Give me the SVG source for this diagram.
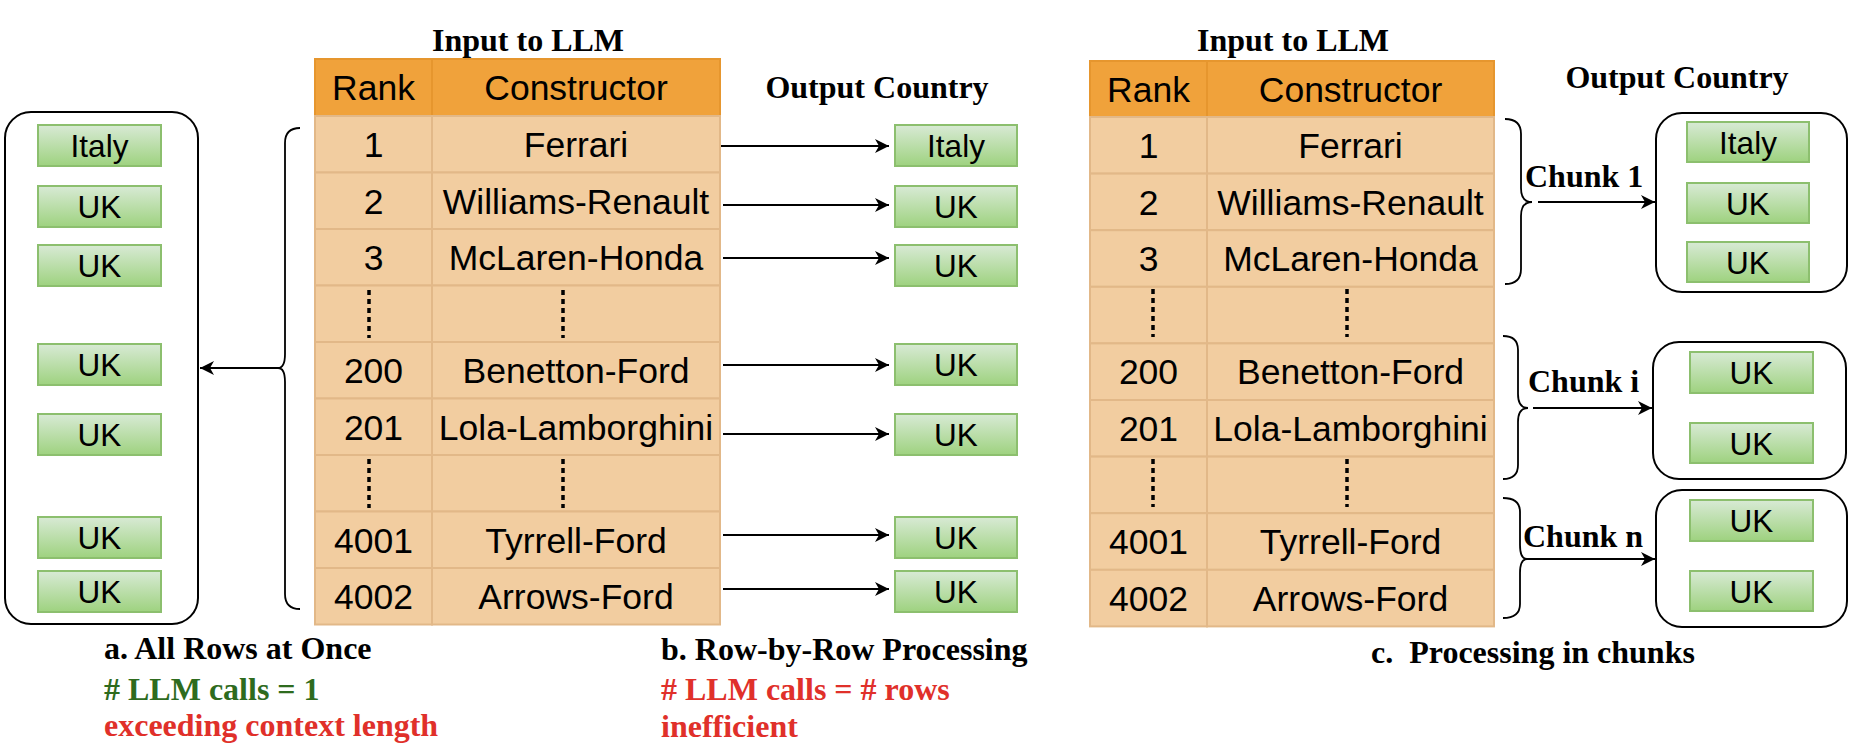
<svg xmlns="http://www.w3.org/2000/svg" width="1854" height="750" viewBox="0 0 1854 750">
<style>
.hdr{fill:#F0A23B;stroke:#E6962E;stroke-width:2}
.cell{fill:#F2CDA0;stroke:#E2B888;stroke-width:2}
.tt{font-family:"Liberation Sans",Arial,sans-serif;font-size:35.5px;fill:#000;text-anchor:middle}
.gb{fill:url(#g);stroke:#8CBF6E;stroke-width:2}
.gt{font-family:"Liberation Sans",Arial,sans-serif;font-size:31.5px;fill:#000;text-anchor:middle}
.rb{fill:#fff;stroke:#000;stroke-width:2}
.ti{font-family:"Liberation Serif","Times New Roman",serif;font-weight:bold;font-size:32px;fill:#000}
.mid{text-anchor:middle}
.dot{stroke:#000;stroke-width:3.5;stroke-dasharray:5 4;fill:none}
.ar{stroke:#000;stroke-width:2;fill:none;marker-end:url(#ah)}
.br{stroke:#000;stroke-width:1.8;fill:none}
.grn{fill:#2E6B1E}
.red{fill:#E0302A}
</style>
<defs>
<linearGradient id="g" x1="0" y1="0" x2="0" y2="1">
<stop offset="0" stop-color="#D8EAD5"/>
<stop offset="1" stop-color="#9ED27F"/>
</linearGradient>
<marker id="ah" markerUnits="userSpaceOnUse" markerWidth="15" markerHeight="14" refX="14" refY="7" orient="auto">
<path d="M0,0 L14,7 L0,14 L4,7 z" fill="#000"/>
</marker>
</defs>

<!-- Panel a -->
<g id="panel-a-output">
<rect class="rb" x="5" y="112" width="193" height="512" rx="26"/>
<g id="a-italy"><rect class="gb" x="38" y="125" width="123" height="41"/><text class="gt" x="99.5" y="157">Italy</text></g>
<g id="a-uk1"><rect class="gb" x="38" y="186" width="123" height="41"/><text class="gt" x="99.5" y="218">UK</text></g>
<g id="a-uk2"><rect class="gb" x="38" y="245" width="123" height="41"/><text class="gt" x="99.5" y="277">UK</text></g>
<g id="a-uk3"><rect class="gb" x="38" y="344" width="123" height="41"/><text class="gt" x="99.5" y="376">UK</text></g>
<g id="a-uk4"><rect class="gb" x="38" y="414" width="123" height="41"/><text class="gt" x="99.5" y="446">UK</text></g>
<g id="a-uk5"><rect class="gb" x="38" y="517" width="123" height="41"/><text class="gt" x="99.5" y="549">UK</text></g>
<g id="a-uk6"><rect class="gb" x="38" y="571" width="123" height="41"/><text class="gt" x="99.5" y="603">UK</text></g>
</g>

<!-- Table 1 -->
<g id="table1">
<text class="ti mid" x="528" y="51">Input to LLM</text>
<rect class="hdr" x="315" y="59" width="117" height="57"/>
<rect class="hdr" x="432" y="59" width="288" height="57"/>
<text class="tt" x="373.5" y="100">Rank</text>
<text class="tt" x="576" y="100">Constructor</text>
<rect class="cell" x="315" y="116" width="117" height="56.5"/><rect class="cell" x="432" y="116" width="288" height="56.5"/>
<rect class="cell" x="315" y="172.5" width="117" height="56.5"/><rect class="cell" x="432" y="172.5" width="288" height="56.5"/>
<rect class="cell" x="315" y="229" width="117" height="56.5"/><rect class="cell" x="432" y="229" width="288" height="56.5"/>
<rect class="cell" x="315" y="285.5" width="117" height="56.5"/><rect class="cell" x="432" y="285.5" width="288" height="56.5"/>
<rect class="cell" x="315" y="342" width="117" height="56.5"/><rect class="cell" x="432" y="342" width="288" height="56.5"/>
<rect class="cell" x="315" y="398.5" width="117" height="56.5"/><rect class="cell" x="432" y="398.5" width="288" height="56.5"/>
<rect class="cell" x="315" y="455" width="117" height="56.5"/><rect class="cell" x="432" y="455" width="288" height="56.5"/>
<rect class="cell" x="315" y="511.5" width="117" height="56.5"/><rect class="cell" x="432" y="511.5" width="288" height="56.5"/>
<rect class="cell" x="315" y="568" width="117" height="56.5"/><rect class="cell" x="432" y="568" width="288" height="56.5"/>
<text class="tt" x="373.5" y="157">1</text><text class="tt" x="576" y="157">Ferrari</text>
<text class="tt" x="373.5" y="213.5">2</text><text class="tt" x="576" y="213.5">Williams-Renault</text>
<text class="tt" x="373.5" y="270">3</text><text class="tt" x="576" y="270">McLaren-Honda</text>
<line class="dot" x1="369" y1="290" x2="369" y2="338"/><line class="dot" x1="563" y1="290" x2="563" y2="338"/>
<text class="tt" x="373.5" y="383">200</text><text class="tt" x="576" y="383">Benetton-Ford</text>
<text class="tt" x="373.5" y="439.5">201</text><text class="tt" x="576" y="439.5">Lola-Lamborghini</text>
<line class="dot" x1="369" y1="459" x2="369" y2="508"/><line class="dot" x1="563" y1="459" x2="563" y2="508"/>
<text class="tt" x="373.5" y="552.5">4001</text><text class="tt" x="576" y="552.5">Tyrrell-Ford</text>
<text class="tt" x="373.5" y="609">4002</text><text class="tt" x="576" y="609">Arrows-Ford</text>
</g>

<!-- Panel b outputs -->
<g id="panel-b-output">
<text class="ti mid" x="877" y="98">Output Country</text>
<g id="b-italy"><rect class="gb" x="895" y="125" width="122" height="41"/><text class="gt" x="956" y="157">Italy</text></g>
<g id="b-uk1"><rect class="gb" x="895" y="186" width="122" height="41"/><text class="gt" x="956" y="218">UK</text></g>
<g id="b-uk2"><rect class="gb" x="895" y="245" width="122" height="41"/><text class="gt" x="956" y="277">UK</text></g>
<g id="b-uk3"><rect class="gb" x="895" y="344" width="122" height="41"/><text class="gt" x="956" y="376">UK</text></g>
<g id="b-uk4"><rect class="gb" x="895" y="414" width="122" height="41"/><text class="gt" x="956" y="446">UK</text></g>
<g id="b-uk5"><rect class="gb" x="895" y="517" width="122" height="41"/><text class="gt" x="956" y="549">UK</text></g>
<g id="b-uk6"><rect class="gb" x="895" y="571" width="122" height="41"/><text class="gt" x="956" y="603">UK</text></g>
</g>

<!-- Table 2 -->
<g id="table2">
<text class="ti mid" x="1293" y="51">Input to LLM</text>
<rect class="hdr" x="1090" y="61" width="117" height="56"/>
<rect class="hdr" x="1207" y="61" width="287" height="56"/>
<text class="tt" x="1148.5" y="101.5">Rank</text>
<text class="tt" x="1350.5" y="101.5">Constructor</text>
<rect class="cell" x="1090" y="117" width="117" height="56.6"/><rect class="cell" x="1207" y="117" width="287" height="56.6"/>
<rect class="cell" x="1090" y="173.6" width="117" height="56.6"/><rect class="cell" x="1207" y="173.6" width="287" height="56.6"/>
<rect class="cell" x="1090" y="230.2" width="117" height="56.6"/><rect class="cell" x="1207" y="230.2" width="287" height="56.6"/>
<rect class="cell" x="1090" y="286.8" width="117" height="56.6"/><rect class="cell" x="1207" y="286.8" width="287" height="56.6"/>
<rect class="cell" x="1090" y="343.4" width="117" height="56.6"/><rect class="cell" x="1207" y="343.4" width="287" height="56.6"/>
<rect class="cell" x="1090" y="400" width="117" height="56.6"/><rect class="cell" x="1207" y="400" width="287" height="56.6"/>
<rect class="cell" x="1090" y="456.6" width="117" height="56.6"/><rect class="cell" x="1207" y="456.6" width="287" height="56.6"/>
<rect class="cell" x="1090" y="513.2" width="117" height="56.6"/><rect class="cell" x="1207" y="513.2" width="287" height="56.6"/>
<rect class="cell" x="1090" y="569.8" width="117" height="56.6"/><rect class="cell" x="1207" y="569.8" width="287" height="56.6"/>
<text class="tt" x="1148.5" y="158">1</text><text class="tt" x="1350.5" y="158">Ferrari</text>
<text class="tt" x="1148.5" y="214.6">2</text><text class="tt" x="1350.5" y="214.6">Williams-Renault</text>
<text class="tt" x="1148.5" y="271.2">3</text><text class="tt" x="1350.5" y="271.2">McLaren-Honda</text>
<line class="dot" x1="1153" y1="289" x2="1153" y2="337"/><line class="dot" x1="1347" y1="289" x2="1347" y2="337"/>
<text class="tt" x="1148.5" y="384.4">200</text><text class="tt" x="1350.5" y="384.4">Benetton-Ford</text>
<text class="tt" x="1148.5" y="441">201</text><text class="tt" x="1350.5" y="441">Lola-Lamborghini</text>
<line class="dot" x1="1153" y1="459" x2="1153" y2="507"/><line class="dot" x1="1347" y1="459" x2="1347" y2="507"/>
<text class="tt" x="1148.5" y="554.2">4001</text><text class="tt" x="1350.5" y="554.2">Tyrrell-Ford</text>
<text class="tt" x="1148.5" y="610.8">4002</text><text class="tt" x="1350.5" y="610.8">Arrows-Ford</text>
</g>

<!-- Panel c outputs -->
<text class="ti mid" x="1677" y="88">Output Country</text>
<g id="chunk1-out">
<rect class="rb" x="1656" y="113" width="191" height="179" rx="26"/>
<g><rect class="gb" x="1687" y="122" width="122" height="40"/><text class="gt" x="1748" y="153.5">Italy</text></g>
<g><rect class="gb" x="1687" y="183" width="122" height="40"/><text class="gt" x="1748" y="214.5">UK</text></g>
<g><rect class="gb" x="1687" y="242" width="122" height="40"/><text class="gt" x="1748" y="273.5">UK</text></g>
</g>
<g id="chunki-out">
<rect class="rb" x="1653" y="342" width="193" height="137" rx="26"/>
<g><rect class="gb" x="1690" y="352" width="123" height="41"/><text class="gt" x="1751.5" y="384">UK</text></g>
<g><rect class="gb" x="1690" y="423" width="123" height="40"/><text class="gt" x="1751.5" y="454.5">UK</text></g>
</g>
<g id="chunkn-out">
<rect class="rb" x="1656" y="490" width="191" height="137" rx="26"/>
<g><rect class="gb" x="1690" y="500" width="123" height="41"/><text class="gt" x="1751.5" y="532">UK</text></g>
<g><rect class="gb" x="1690" y="571" width="123" height="40"/><text class="gt" x="1751.5" y="602.5">UK</text></g>
</g>

<!-- Connectors -->
<g id="connectors">
<path class="br" d="M300,128 Q285,128 285,143 L285,354 Q285,368 278,368 Q285,368 285,382 L285,594 Q285,609 300,609"/>
<line class="ar" x1="278" y1="368" x2="200" y2="368"/>
<line class="ar" x1="721" y1="146" x2="889" y2="146"/>
<line class="ar" x1="723" y1="205" x2="889" y2="205"/>
<line class="ar" x1="723" y1="258" x2="889" y2="258"/>
<line class="ar" x1="723" y1="365" x2="889" y2="365"/>
<line class="ar" x1="723" y1="434" x2="889" y2="434"/>
<line class="ar" x1="723" y1="535" x2="889" y2="535"/>
<line class="ar" x1="723" y1="589" x2="889" y2="589"/>
<path class="br" d="M1505,119 Q1521,119 1521,134 L1521,188 Q1521,202 1532,202 Q1521,202 1521,216 L1521,269 Q1521,284 1505,284"/>
<line class="ar" x1="1538" y1="202" x2="1655" y2="202"/>
<path class="br" d="M1503,336 Q1518,336 1518,350 L1518,394 Q1518,408 1528,408 Q1518,408 1518,422 L1518,465 Q1518,479 1503,479"/>
<line class="ar" x1="1533" y1="408" x2="1652" y2="408"/>
<path class="br" d="M1503,498 Q1520,498 1520,512 L1520,545 Q1520,559 1527,559 Q1520,559 1520,573 L1520,604 Q1520,618 1503,618"/>
<line class="ar" x1="1527" y1="559" x2="1655" y2="559"/>
<text class="ti" x="1525" y="187">Chunk 1</text>
<text class="ti" x="1528" y="392">Chunk i</text>
<text class="ti" x="1523" y="547">Chunk n</text>
</g>

<!-- Captions -->
<g id="captions">
<text class="ti" x="104" y="659">a. All Rows at Once</text>
<text class="ti grn" x="104" y="700"># LLM calls = 1</text>
<text class="ti red" x="104" y="736">exceeding context length</text>
<text class="ti" x="661" y="660">b. Row-by-Row Processing</text>
<text class="ti red" x="661" y="700"># LLM calls = # rows</text>
<text class="ti red" x="661" y="737">inefficient</text>
<text class="ti" x="1371" y="663" xml:space="preserve">c.  Processing in chunks</text>
</g>
</svg>
